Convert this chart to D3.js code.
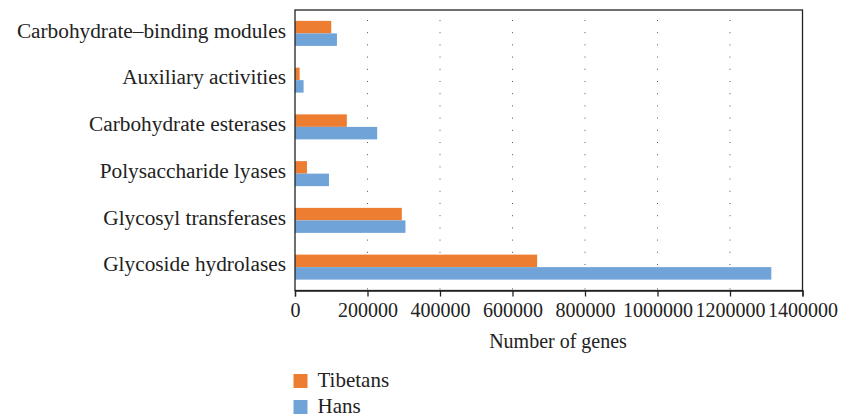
<!DOCTYPE html>
<html><head><meta charset="utf-8">
<script src="https://cdn.jsdelivr.net/npm/d3@7"></script>
<style>body{margin:0;background:#fff}svg{display:block}</style>
</head><body>
<svg id="c" width="856" height="417"></svg>
<script>
const categories = ["Carbohydrate\u2013binding modules","Auxiliary activities","Carbohydrate esterases","Polysaccharide lyases","Glycosyl transferases","Glycoside hydrolases"];
const seriesNames = ["Tibetans","Hans"];
const tibetans = [100000, 12700, 143000, 33000, 294700, 668000];
const hans = [115700, 23700, 226700, 93700, 304700, 1314000];
const xTicks = [0,200000,400000,600000,800000,1000000,1200000,1400000];
const colors = ["#ED7D31","#70A4D8"];
const xTitle = "Number of genes";

const FONT = "'Liberation Serif','Times New Roman',serif";
const svg = d3.select("#c");
const m = {l:295, r:802.5, t:10, b:290.5};
const x = d3.scaleLinear().domain([0,1400000]).range([m.l,m.r]);
const y = d3.scaleBand().domain(categories).range([m.t,m.b]).paddingInner(0.465).paddingOuter(0.2325);
const y2 = d3.scaleBand().domain(seriesNames).range([0,y.bandwidth()]);

// grid
svg.append("g").selectAll("line").data(xTicks.slice(1,-1)).join("line")
  .attr("x1",d=>x(d)).attr("x2",d=>x(d)).attr("y1",m.t+10).attr("y2",m.b)
  .attr("stroke","#555").attr("stroke-width",1).attr("stroke-dasharray","1,11.2");

// bars
const data = categories.map((c,i)=>({c, vals:[tibetans[i],hans[i]]}));
const g = svg.append("g").selectAll("g").data(data).join("g")
  .attr("transform",d=>`translate(0,${y(d.c)})`);
g.selectAll("rect").data(d=>d.vals.map((v,j)=>({v,s:seriesNames[j],j}))).join("rect")
  .attr("x",x(0)).attr("y",d=>y2(d.s)).attr("width",d=>x(d.v)-x(0)).attr("height",y2.bandwidth())
  .attr("fill",d=>colors[d.j]);

// frame
svg.append("rect").attr("x",m.l).attr("y",m.t).attr("width",m.r-m.l).attr("height",m.b-m.t)
  .attr("fill","none").attr("stroke","#222").attr("stroke-width",1.3);

// x axis
const xa = svg.append("g").attr("transform",`translate(0,${m.b})`)
  .call(d3.axisBottom(x).tickValues(xTicks).tickFormat(d3.format("d")).tickSize(6).tickPadding(6));
xa.select(".domain").attr("stroke","#222").attr("stroke-width",1.3);
xa.selectAll(".tick line").attr("stroke","#222").attr("stroke-width",1.3);
xa.selectAll("text").attr("font-family",FONT).attr("font-size",20).attr("fill","#222");

// y labels
const ya = svg.append("g").attr("transform",`translate(${m.l},0)`)
  .call(d3.axisLeft(y).tickSize(0).tickPadding(9));
ya.select(".domain").remove();
ya.selectAll("text").attr("font-family",FONT).attr("font-size",21.3).attr("fill","#222").attr("dy","0.2em");

// x title
svg.append("text").attr("x",558).attr("y",348).attr("text-anchor","middle")
  .attr("font-family",FONT).attr("font-size",20).attr("fill","#222").text(xTitle);

// legend
const lg = svg.append("g").selectAll("g").data(seriesNames).join("g")
  .attr("transform",(d,i)=>`translate(293.5,${374+i*26})`);
lg.append("rect").attr("width",14).attr("height",14).attr("fill",(d,i)=>colors[i]);
lg.append("text").attr("x",24).attr("y",12.5).attr("font-family",FONT).attr("font-size",21).attr("fill","#222").text(d=>d);
</script>
</body></html>
